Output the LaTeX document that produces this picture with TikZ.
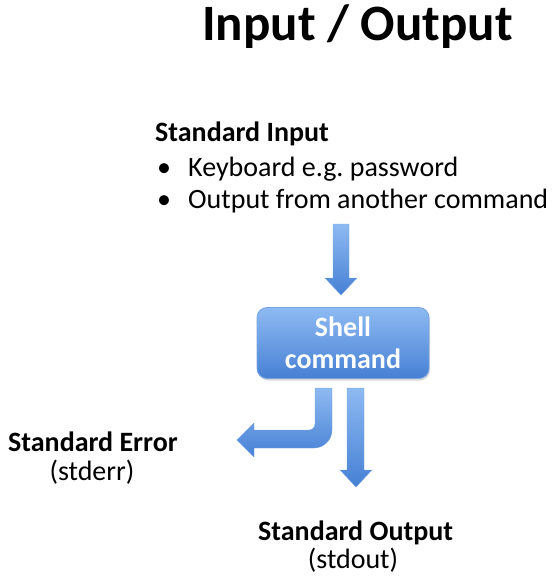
\documentclass[tikz,border=0pt]{standalone}
\usepackage{fontspec}
\setmainfont{Carlito}
\usetikzlibrary{shadows}
\definecolor{bluelight}{RGB}{142,186,242}
\definecolor{bluedark}{RGB}{70,128,212}
\definecolor{blueedge}{RGB}{120,165,225}
\frenchspacing
\begin{document}
\begin{tikzpicture}[x=1pt,y=-1pt,
  lbl/.style={inner sep=0pt,font=\fontsize{28}{32}\selectfont},
  blbl/.style={lbl,font=\fontsize{28}{32}\selectfont\bfseries},
  shellbox/.style={rounded corners=10pt,minimum width=172pt,minimum height=71pt,inner sep=0pt,
    top color=bluelight,bottom color=bluedark,draw=blueedge,line width=0.8pt,
    text=white,align=center,font=\fontsize{28}{32}\selectfont\bfseries,
    drop shadow={shadow xshift=1pt,shadow yshift=-2pt,opacity=0.3}},
  blockarrow/.style={top color=bluelight,bottom color=bluedark,draw=blueedge,line width=0.4pt}]
\useasboundingbox (0,0) rectangle (553,587);
% title
\node[inner sep=0pt,anchor=base,font=\fontsize{51}{56}\selectfont\bfseries] (title) at (357.5,40) {Input / Output};
% standard input
\node[blbl,anchor=base west] (stdin) at (155,141) {Standard Input};
\node[lbl,anchor=base] (b1) at (164,176) {•};
\node[lbl,anchor=base west] (i1) at (188,176) {Keyboard e.g. password};
\node[lbl,anchor=base] (b2) at (164,208) {•};
\node[lbl,anchor=base west] (i2) at (188,208) {Output from another command};
% shell
\node[shellbox] (shell) at (343,343) {Shell\\command};
% input arrow
\shade[blockarrow] (333,224) -- (349,224) -- (349,278) -- (357,278) -- (341,295) -- (325,278) -- (333,278) -- cycle;
% output arrow
\shade[blockarrow] (347,388) -- (364,388) -- (364,470) -- (372,470) -- (356,487) -- (340,470) -- (347,470) -- cycle;
% error arrow
\shade[blockarrow] (315,388) -- (332,388) -- (332,430) arc[start angle=0,end angle=-90,radius=18pt] -- (254,448) -- (254,457) -- (237,440) -- (254,423) -- (254,430) -- (309,430) arc[start angle=-90,end angle=0,radius=6pt] -- cycle;
% labels
\node[blbl,anchor=base west] (stderr) at (8,451) {Standard Error};
\node[lbl,anchor=base] (stderrs) at (92,480) {(stderr)};
\node[blbl,anchor=base west] (stdout) at (258,540) {Standard Output};
\node[lbl,anchor=base] (stdouts) at (353,568) {(stdout)};
\end{tikzpicture}
\end{document}
